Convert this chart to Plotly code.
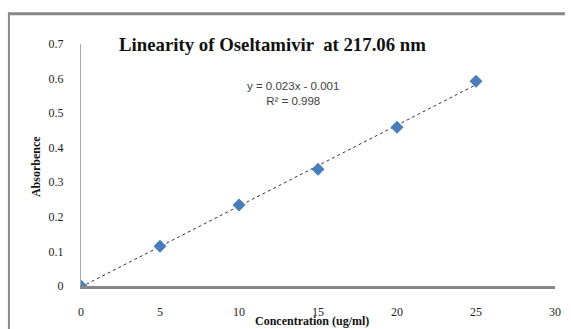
import numpy as np
import plotly.graph_objects as go

concentration = [0, 5, 10, 15, 20, 25]
absorbance = [0.0, 0.115, 0.234, 0.338, 0.459, 0.592]
x_ticks = [0, 5, 10, 15, 20, 25, 30]
y_ticks = [0, 0.1, 0.2, 0.3, 0.4, 0.5, 0.6, 0.7]

slope, intercept = np.polyfit(concentration, absorbance, 1)
fit_x = [min(concentration), max(concentration)]
fit_y = [slope * v + intercept for v in fit_x]

W, H = 571, 329
L, R, T, B = 81, 10, 44, 40
PW, PH = W - L - R, H - T - B


def px(xp):
    return (xp - L) / PW


def py(yp):
    return (H - B - yp) / PH


fig = go.Figure()
fig.add_trace(go.Scatter(x=fit_x, y=fit_y, mode="lines",
                         line=dict(color="#333333", width=1, dash="dot"),
                         showlegend=False, hoverinfo="skip"))
fig.add_trace(go.Scatter(x=concentration, y=absorbance, mode="markers",
                         marker=dict(symbol="diamond", size=10, color="#4a7ebb",
                                     line=dict(width=0)),
                         showlegend=False))

fig.update_layout(
    width=W, height=H,
    margin=dict(l=L, r=R, t=T, b=B),
    paper_bgcolor="white", plot_bgcolor="white",
    font=dict(family="Liberation Serif", size=12, color="#222222"),
    xaxis=dict(range=[0, 30], tickvals=x_ticks, showgrid=False, zeroline=False,
               showline=True, linecolor="#868686", linewidth=3, ticks="",
               ticklabelstandoff=13, tickfont=dict(size=12, family="Liberation Serif")),
    yaxis=dict(range=[0, 0.7], tickvals=y_ticks, ticktext=[("%g" % v) for v in y_ticks],
               showgrid=False, zeroline=False, showline=True, linecolor="#aaaaaa",
               linewidth=1, ticks="", ticklabelstandoff=14,
               tickfont=dict(size=12, family="Liberation Serif")),
    shapes=[
        dict(type="line", xref="paper", yref="paper",
             x0=px(7), x1=px(W), y0=py(13.5), y1=py(13.5),
             line=dict(color="#888888", width=3), layer="above"),
        dict(type="line", xref="paper", yref="paper",
             x0=px(8), x1=px(8), y0=py(12), y1=py(H + 5),
             line=dict(color="#8a8a8a", width=2), layer="above"),
    ],
    annotations=[
        dict(text="<b>Linearity of Oseltamivir  at 217.06 nm</b>", xref="paper", yref="paper",
             x=px(275), y=py(44),
             showarrow=False, xanchor="center", yanchor="middle",
             font=dict(family="Liberation Serif", size=18.8, color="#111111")),
        dict(text="y = 0.023x - 0.001<br>R² = 0.998", xref="paper", yref="paper",
             x=px(296), y=py(94),
             showarrow=False, xanchor="center", yanchor="middle", align="center",
             font=dict(family="Liberation Sans", size=11.5, color="#404040")),
        dict(text="<b>Concentration (ug/ml)</b>", xref="paper", yref="paper",
             x=px(315), y=py(324),
             showarrow=False, xanchor="center", yanchor="middle",
             font=dict(family="Liberation Serif", size=12, color="#111111")),
        dict(text="<b>Absorbence</b>", xref="paper", yref="paper", textangle=-90,
             x=px(36), y=py(168),
             showarrow=False, xanchor="center", yanchor="middle",
             font=dict(family="Liberation Serif", size=12, color="#111111")),
    ],
)

fig.write_html("out.html", config={"displayModeBar": False},
               post_script="document.body.style.margin='0';document.body.style.overflow='hidden';")
